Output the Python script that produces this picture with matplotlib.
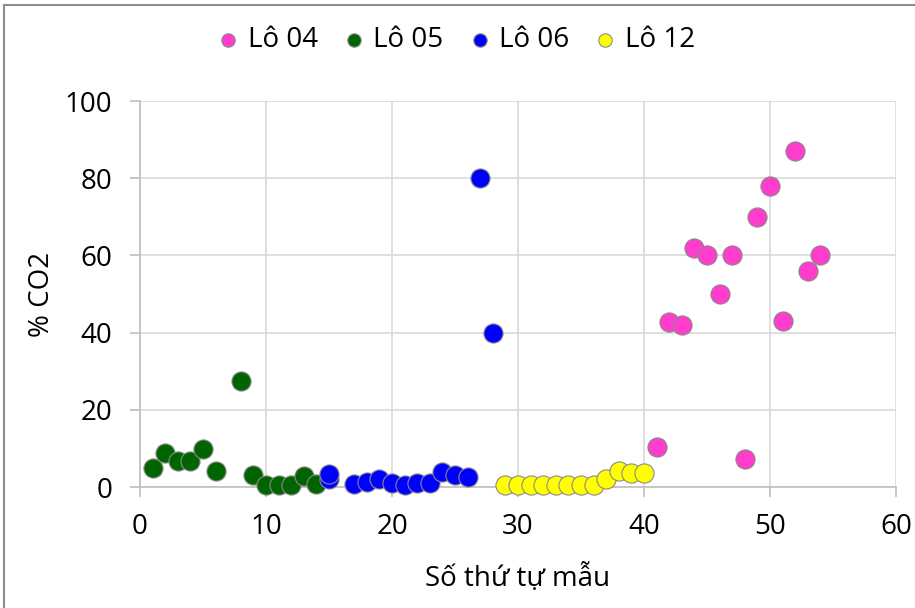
import matplotlib
matplotlib.use("Agg")
import matplotlib.pyplot as plt
from matplotlib.patches import Rectangle

plt.rcParams['font.family'] = ['Open Sans', 'DejaVu Sans']

# Sample numbers and CO2 percentages per lot
lo04_x = [41, 42, 43, 44, 45, 46, 47, 48, 49, 50, 51, 52, 53, 54]
lo04_y = [10.3, 42.8, 42.0, 62.0, 60.0, 50.0, 60.0, 7.2, 70.0, 78.0, 43.0, 87.0, 56.0, 60.0]

lo05_x = [1, 2, 3, 4, 5, 6, 8, 9, 10, 11, 12, 13, 14]
lo05_y = [4.8, 8.7, 6.7, 6.7, 9.8, 4.1, 27.5, 3.1, 0.5, 0.5, 0.5, 2.8, 0.7]

lo06_x = [15, 15, 17, 18, 19, 20, 21, 22, 23, 24, 25, 26, 27, 28]
lo06_y = [2.2, 3.3, 0.7, 1.2, 2.2, 1.0, 0.5, 1.1, 1.1, 3.8, 3.1, 2.5, 80.0, 40.0]

lo12_x = [29, 30, 31, 32, 33, 34, 35, 36, 37, 38, 39, 40]
lo12_y = [0.5, 0.5, 0.5, 0.5, 0.5, 0.5, 0.5, 0.5, 2.0, 4.1, 3.7, 3.5]

series_names = ["Lô 04", "Lô 05", "Lô 06", "Lô 12"]
series_colors = ["#FF3CCC", "#006400", "#0000FF", "#FFFF00"]

x_ticks = [0, 10, 20, 30, 40, 50, 60]
y_ticks = [0, 20, 40, 60, 80, 100]

W, H = 915, 608
fig = plt.figure(figsize=(W / 100, H / 100), dpi=100)
ax = fig.add_axes([140 / W, 1 - 487 / H, (896 - 140) / W, (487 - 101) / H])

# outer chart frame (right and bottom edges run off the canvas)
fig.patches.append(Rectangle((4 / W, -0.2), 1.2, 1.2 - 5 / H, transform=fig.transFigure,
                             fill=False, edgecolor="#8c8c8c", linewidth=1.5))

data = [(lo04_x, lo04_y), (lo05_x, lo05_y), (lo06_x, lo06_y), (lo12_x, lo12_y)]
for (xs, ys), name, col in zip(data, series_names, series_colors):
    ax.scatter(xs, ys, s=190, color=col, edgecolors="#8a8a8a", linewidths=0.8,
               label=name, zorder=3, clip_on=False)

ax.set_xlim(0, 60)
ax.set_ylim(0, 100)
ax.set_xticks(x_ticks)
ax.set_yticks(y_ticks)
ax.grid(True, color="#d9d9d9", linewidth=1.2, zorder=0)
ax.set_axisbelow(True)

for s in ["top", "right"]:
    ax.spines[s].set_visible(False)
for s in ["left", "bottom"]:
    ax.spines[s].set_color("#bfbfbf")
    ax.spines[s].set_linewidth(1.2)

ax.tick_params(axis="both", direction="out", length=7, width=1.2, color="#bfbfbf",
               labelsize=20, labelcolor="#000000")
ax.tick_params(axis="x", pad=12)
ax.tick_params(axis="y", pad=13)

ax.set_xlabel("Số thứ tự mẫu", fontsize=20, labelpad=16)
ax.set_ylabel("% CO2", fontsize=20, labelpad=6)

leg = fig.legend(loc="center", bbox_to_anchor=(0.5, 1 - 40 / H), ncol=4, frameon=False,
                 fontsize=20, markerscale=0.7, handlelength=0.6, handletextpad=0.4,
                 columnspacing=1.0)

fig.savefig("out.png", dpi=100)
